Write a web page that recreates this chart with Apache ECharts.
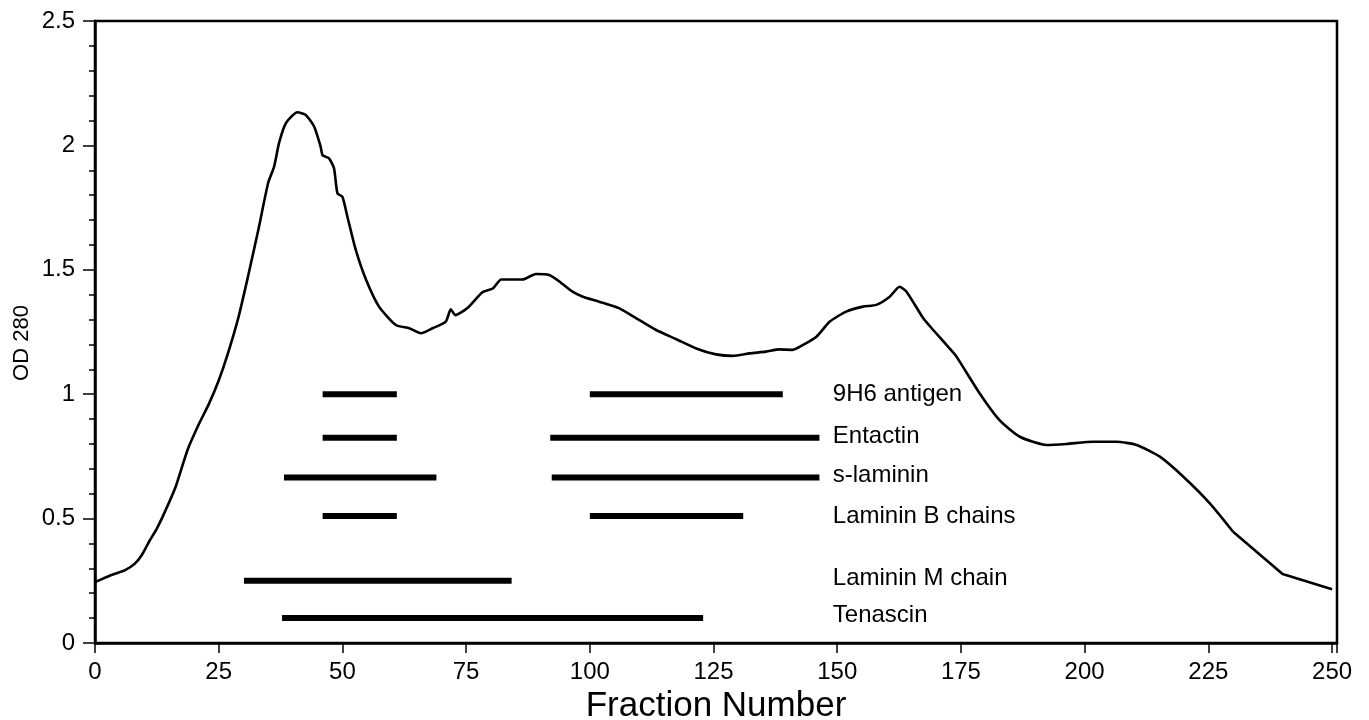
<!DOCTYPE html>
<html>
<head>
<meta charset="utf-8">
<script src="https://cdn.jsdelivr.net/npm/echarts@6/dist/echarts.min.js"></script>
<style>html,body{margin:0;padding:0;background:#fff;}#c{width:1369px;height:720px;}</style>
</head>
<body>
<div id="c"></div>
<script>
// Elution profile (fraction number, OD 280)
const fractions = [0,2,4,6,8,9.5,11,12.5,14.3,16.3,18.7,21,23,25,26.8,29,31,33,35,36.2,37.2,38.6,40.9,42.6,44.3,45.6,46,47.3,48.3,49,50,51,52.7,54.8,57.4,60.8,63.5,65.9,68.2,70.9,71.9,72.8,75.2,78.3,80.4,82.1,86.4,89.1,91.8,93.9,96.5,98.6,101.9,106,109.4,113.4,117.5,121.5,125.5,128.9,132.3,135.6,138.3,141,143.1,145.8,148.5,151.8,155.2,157.9,160.6,162.6,164,167.4,169.4,172.7,174.1,178.8,182.8,186.9,192.3,196.3,201.7,206.4,210.5,215.2,219.9,225.3,230,240,250];
const od280 = [0.245,0.262,0.278,0.292,0.318,0.355,0.41,0.46,0.535,0.628,0.776,0.88,0.96,1.055,1.16,1.31,1.48,1.66,1.85,1.915,2.01,2.09,2.133,2.122,2.075,1.995,1.96,1.948,1.908,1.807,1.794,1.714,1.58,1.459,1.352,1.278,1.265,1.245,1.265,1.292,1.341,1.318,1.345,1.41,1.425,1.461,1.461,1.483,1.479,1.452,1.412,1.392,1.372,1.345,1.305,1.258,1.221,1.184,1.16,1.154,1.164,1.171,1.18,1.178,1.198,1.231,1.292,1.332,1.352,1.359,1.392,1.432,1.412,1.305,1.258,1.184,1.151,1.003,0.896,0.829,0.796,0.8,0.809,0.809,0.796,0.749,0.669,0.561,0.447,0.277,0.216];
// the last fractions were read sparsely (every 10) and are joined by straight segments
const sparseFrom = 230;

// Protein distribution bars (fraction ranges)
const proteins = ['9H6 antigen','Entactin','s-laminin','Laminin B chains','Laminin M chain','Tenascin'];
const barLevels = [1.0,0.825,0.665,0.51,0.25,0.1];
const barRanges = [
  [[46,61],[100,139]],
  [[46,61],[92,146.4]],
  [[38.2,69],[92.3,146.4]],
  [[46,61],[100,131]],
  [[30.1,84.2]],
  [[37.8,122.9]]
];
const labelFraction = 149.1;
const labelLevels = [1.0,0.83,0.675,0.51,0.26,0.11];

// Axis ticks
const xTicks = [0,25,50,75,100,125,150,175,200,225,250];
const yTicks = [0,0.5,1,1.5,2,2.5];

const FONT = 'Liberation Sans, Arial, Helvetica, sans-serif';

const profile = fractions.map((f, i) => [f, od280[i]]);
const series = [];
series.push({
  type: 'line',
  data: profile.filter(p => p[0] <= sparseFrom),
  showSymbol: false,
  smooth: 0.2,
  lineStyle: { color: '#000', width: 2.6 },
  silent: true,
  z: 3
});
series.push({
  type: 'line',
  data: profile.filter(p => p[0] >= sparseFrom),
  showSymbol: false,
  smooth: false,
  lineStyle: { color: '#000', width: 2.6 },
  silent: true,
  z: 3
});
barRanges.forEach((ranges, r) => {
  ranges.forEach(seg => {
    series.push({
      type: 'line',
      data: [[seg[0], barLevels[r]], [seg[1], barLevels[r]]],
      showSymbol: false,
      lineStyle: { color: '#000', width: 6, cap: 'butt' },
      silent: true,
      z: 4
    });
  });
});
series.push({
  type: 'scatter',
  data: proteins.map((p, i) => ({ value: [labelFraction, labelLevels[i]], name: p })),
  symbolSize: 0,
  silent: true,
  label: {
    show: true,
    position: 'right',
    distance: 0,
    formatter: p => p.name,
    color: '#000',
    opacity: 1,
    textBorderWidth: 0,
    textShadowBlur: 0,
    fontFamily: FONT,
    fontSize: 24,
    align: 'left',
    verticalAlign: 'middle'
  },
  z: 5
});

const chart = echarts.init(document.getElementById('c'), null, { renderer: 'canvas' });
chart.setOption({
  animation: false,
  backgroundColor: '#fff',
  grid: {
    left: 95, right: 32, top: 21, bottom: 77,
    containLabel: false,
    outerBoundsMode: 'none',
    show: true, borderColor: '#000', borderWidth: 2.5, backgroundColor: 'transparent'
  },
  graphic: [{
    type: 'text',
    x: 22, y: 343,
    rotation: Math.PI / 2,
    style: {
      text: 'OD 280',
      fill: '#000',
      font: '22px ' + FONT,
      align: 'center',
      verticalAlign: 'middle'
    },
    silent: true
  }],
  xAxis: {
    type: 'value',
    min: 0, max: 251, interval: 25,
    name: 'Fraction Number',
    nameLocation: 'middle',
    nameGap: 42,
    nameTextStyle: { color: '#000', fontFamily: FONT, fontSize: 35 },
    axisLine: { show: true, lineStyle: { color: '#000', width: 2.5 } },
    axisTick: { show: true, inside: false, length: 10, lineStyle: { color: '#000', width: 1.5 } },
    axisLabel: {
      color: '#000', fontFamily: FONT, fontSize: 24, margin: 17,
      formatter: v => (xTicks.indexOf(v) >= 0 ? String(v) : '')
    },
    splitLine: { show: false }
  },
  yAxis: {
    type: 'value',
    min: 0, max: 2.5, interval: 0.5,
    axisLine: { show: true, lineStyle: { color: '#000', width: 2.5 } },
    axisTick: { show: true, inside: false, length: 12, lineStyle: { color: '#000', width: 1.5 } },
    minorTick: { show: true, splitNumber: 5, length: 6, lineStyle: { color: '#000', width: 1.5 } },
    axisLabel: {
      color: '#000', fontFamily: FONT, fontSize: 24, margin: 20,
      formatter: v => (yTicks.indexOf(v) >= 0 ? String(v) : '')
    },
    splitLine: { show: false }
  },
  series: series
});
</script>
</body>
</html>
